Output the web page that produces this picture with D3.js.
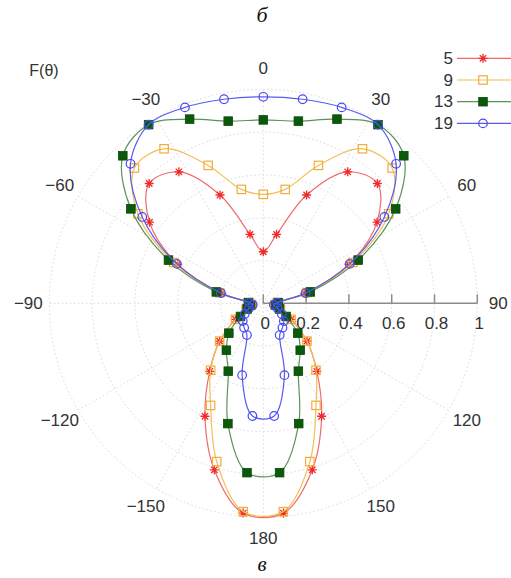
<!DOCTYPE html>
<html>
<head>
<meta charset="utf-8">
<script src="https://cdn.jsdelivr.net/npm/d3@7"></script>
<style>
  body { margin: 0; background: #fff; }
  text { font-family: "Liberation Sans", Arial, sans-serif; fill: #333; }
</style>
</head>
<body>
<div id="chart"></div>
<script>
// angle of each marker, degrees clockwise from the top
const angles = [0, 10.9, 21.8, 32.7, 43.6, 54.5, 65.5, 76.4, 87.3, 98.2, 109.1, 120,
  130.9, 141.8, 152.7, 163.6, 174.5, 185.5, 196.4, 207.3, 218.2, 229.1, 240, 250.9,
  261.8, 272.7, 283.6, 294.5, 305.5, 316.4, 327.3, 338.2, 349.1];

const series5  = [0.241, 0.328, 0.545, 0.730, 0.773, 0.653, 0.44, 0.20, 0.06, 0.05, 0.08, 0.15,
  0.27, 0.405, 0.594, 0.811, 0.985, 0.985, 0.811, 0.594, 0.405, 0.27, 0.15, 0.08,
  0.05, 0.06, 0.20, 0.44, 0.653, 0.773, 0.730, 0.545, 0.328];
const series9  = [0.509, 0.542, 0.694, 0.858, 0.873, 0.72, 0.46, 0.21, 0.065, 0.055, 0.085, 0.15,
  0.27, 0.398, 0.537, 0.771, 0.978, 0.978, 0.771, 0.537, 0.398, 0.27, 0.15, 0.085,
  0.055, 0.065, 0.21, 0.46, 0.72, 0.873, 0.858, 0.694, 0.542];
const series13 = [0.857, 0.867, 0.927, 0.992, 0.952, 0.76, 0.487, 0.226, 0.07, 0.06, 0.08, 0.123,
  0.213, 0.279, 0.357, 0.586, 0.795, 0.795, 0.586, 0.357, 0.279, 0.213, 0.123, 0.08,
  0.06, 0.07, 0.226, 0.487, 0.76, 0.952, 0.992, 0.927, 0.867];
const series19 = [0.965, 0.971, 0.986, 0.992, 0.900, 0.695, 0.444, 0.204, 0.065, 0.05, 0.07, 0.10,
  0.127, 0.145, 0.167, 0.35, 0.529, 0.529, 0.35, 0.167, 0.145, 0.127, 0.10, 0.07,
  0.05, 0.065, 0.204, 0.444, 0.695, 0.900, 0.992, 0.986, 0.971];

const seriesNames = ["5", "9", "13", "19"];
const radialTicks = [0, 0.2, 0.4, 0.6, 0.8, 1];
const radialTickLabels = ["0", "0.2", "0.4", "0.6", "0.8", "1"];
const gridAngles = [0, 30, 60, 90, 120, 150, 180, 210, 240, 270, 300, 330];
const gridAngleLabels = ["0", "30", "60", "90", "120", "150", "180", "\u2212150", "\u2212120", "\u221290", "\u221260", "\u221230"];

const width = 511, height = 578;
const cx = 263.3, cy = 303.3, R = 214;

const svg = d3.select("#chart").append("svg")
  .attr("width", width).attr("height", height);

const r = d3.scaleLinear().domain([0, 1]).range([0, R]);
const ang = d3.scaleLinear().domain([0, 360]).range([0, 2 * Math.PI]);

const g = svg.append("g").attr("transform", `translate(${cx},${cy})`);

// grid circles
g.selectAll(".ring")
  .data(radialTicks.slice(1))
  .join("circle")
  .attr("r", d => r(d))
  .attr("fill", "none")
  .attr("stroke", "#d9d9d9")
  .attr("stroke-width", 1)
  .attr("stroke-dasharray", "1.5,2.5");

// radial spokes
g.selectAll(".spoke")
  .data(gridAngles)
  .join("line")
  .attr("x1", 0).attr("y1", 0)
  .attr("x2", d => r(1) * Math.sin(ang(d)))
  .attr("y2", d => -r(1) * Math.cos(ang(d)))
  .attr("stroke", "#d9d9d9")
  .attr("stroke-width", 1)
  .attr("stroke-dasharray", "1.5,2.5");

// angle labels
g.selectAll(".alabel")
  .data(gridAngles)
  .join("text")
  .attr("x", d => 235 * Math.sin(ang(d)))
  .attr("y", d => -235 * Math.cos(ang(d)))
  .attr("text-anchor", "middle")
  .attr("dominant-baseline", "central")
  .style("font-size", "17px")
  .text((d, i) => gridAngleLabels[i]);

// radius axis along 90 deg
g.append("line")
  .attr("x1", 0).attr("y1", 0).attr("x2", r(1)).attr("y2", 0)
  .attr("stroke", "#8c8c8c").attr("stroke-width", 1.5);

g.selectAll(".rtick")
  .data(radialTicks)
  .join("line")
  .attr("x1", d => r(d)).attr("x2", d => r(d))
  .attr("y1", 0).attr("y2", -9)
  .attr("stroke", "#8c8c8c").attr("stroke-width", 1.5);

g.selectAll(".rlabel")
  .data(radialTicks)
  .join("text")
  .attr("x", d => r(d) + 2)
  .attr("y", 20)
  .attr("text-anchor", "middle")
  .attr("dominant-baseline", "central")
  .style("font-size", "17px")
  .text((d, i) => radialTickLabels[i]);

// series styles
const styles = [
  { name: seriesNames[0], values: series5,  line: "#f06a6a", mark: "#f02a2a", shape: "star" },
  { name: seriesNames[1], values: series9,  line: "#f5bd55", mark: "#f2ac3a", shape: "square" },
  { name: seriesNames[2], values: series13, line: "#5a945a", mark: "#0b5a0b", shape: "fsquare" },
  { name: seriesNames[3], values: series19, line: "#5a5af0", mark: "#4848f5", shape: "circle" }
];

const line = d3.lineRadial()
  .angle(d => ang(d.a))
  .radius(d => r(d.v))
  .curve(d3.curveCatmullRomClosed.alpha(0.5));

function drawMarker(sel, shape, color) {
  if (shape === "star") {
    const s = 4.5, t = 3.2;
    sel.append("path")
      .attr("d", `M${-s},0L${s},0M0,${-s}L0,${s}M${-t},${-t}L${t},${t}M${-t},${t}L${t},${-t}`)
      .attr("stroke", color).attr("stroke-width", 1.3).attr("fill", "none");
  } else if (shape === "square") {
    sel.append("rect")
      .attr("x", -4.2).attr("y", -4.2).attr("width", 8.4).attr("height", 8.4)
      .attr("fill", "none").attr("stroke", color).attr("stroke-width", 1.2);
  } else if (shape === "fsquare") {
    sel.append("rect")
      .attr("x", -4.3).attr("y", -4.3).attr("width", 8.6).attr("height", 8.6)
      .attr("fill", color).attr("stroke", "#0a480a").attr("stroke-width", 0.8);
  } else {
    sel.append("circle")
      .attr("r", 4.3)
      .attr("fill", "none").attr("stroke", color).attr("stroke-width", 1.2);
  }
}

styles.forEach(function (s) {
  const pts = angles.map((a, i) => ({ a: a, v: s.values[i] }));
  g.append("path")
    .datum(pts)
    .attr("d", line)
    .attr("fill", "none")
    .attr("stroke", s.line)
    .attr("stroke-width", 1.2);

  g.selectAll(null)
    .data(pts)
    .join("g")
    .attr("transform", d => `translate(${r(d.v) * Math.sin(ang(d.a))},${-r(d.v) * Math.cos(ang(d.a))})`)
    .each(function () { drawMarker(d3.select(this), s.shape, s.mark); });
});

// legend
const legend = svg.selectAll(".legend")
  .data(styles)
  .join("g")
  .attr("transform", (d, i) => `translate(0,${58.3 + i * 21.7})`);

legend.append("text")
  .attr("x", 453)
  .attr("y", 0)
  .attr("text-anchor", "end")
  .attr("dominant-baseline", "central")
  .style("font-size", "17px")
  .text(d => d.name);

legend.append("line")
  .attr("x1", 457).attr("x2", 515)
  .attr("y1", 0).attr("y2", 0)
  .attr("stroke", d => d.line).attr("stroke-width", 1.2);

legend.each(function (d) {
  const m = d3.select(this).append("g").attr("transform", "translate(483,0)");
  drawMarker(m, d.shape, d.mark);
});

// F(theta) label
svg.append("text")
  .attr("x", 44).attr("y", 70)
  .attr("text-anchor", "middle")
  .attr("dominant-baseline", "central")
  .style("font-size", "16px")
  .text("F(\u03b8)");

// panel letters
svg.append("text")
  .attr("x", 262).attr("y", 22)
  .attr("text-anchor", "middle")
  .style("font-family", "'Liberation Serif', serif")
  .style("font-style", "italic")
  .style("font-size", "22px")
  .style("fill", "#111")
  .text("б");

svg.append("text")
  .attr("x", 262).attr("y", 571)
  .attr("text-anchor", "middle")
  .style("font-family", "'Liberation Serif', serif")
  .style("font-style", "italic")
  .style("font-size", "21px")
  .style("fill", "#111")
  .text("в");
</script>
</body>
</html>
